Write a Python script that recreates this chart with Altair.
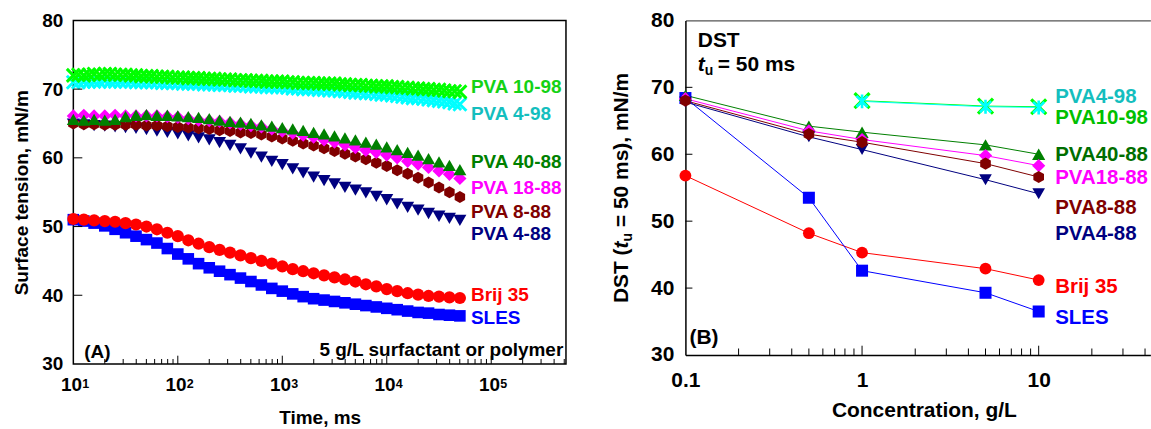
import altair as alt
import pandas as pd

FONT = "Liberation Sans"

# ---------------- Panel (A): surface tension vs time, 5 g/L ----------------
time_ms = [10, 12.6, 15.8, 20, 25.1, 31.6, 39.8, 50.1, 63.1, 79.4,
           100, 126, 158, 200, 251, 316, 398, 501, 631, 794,
           1000, 1259, 1585, 1995, 2512, 3162, 3981, 5012, 6310, 7943,
           10000, 12589, 15849, 19953, 25119, 31623, 39811, 50119]

time_fine_ms = [10, 11.2, 12.6, 14.1, 15.8, 17.8, 20, 22.4, 25.1, 28.2,
                31.6, 35.5, 39.8, 44.7, 50.1, 56.2, 63.1, 70.8, 79.4, 89.1,
                100, 112, 126, 141, 158, 178, 200, 224, 251, 282,
                316, 355, 398, 447, 501, 562, 631, 708, 794, 891,
                1000, 1122, 1259, 1413, 1585, 1778, 1995, 2239, 2512, 2818,
                3162, 3548, 3981, 4467, 5012, 5623, 6310, 7079, 7943, 8913,
                10000, 11220, 12589, 14125, 15849, 17783, 19953, 22387, 25119, 28184,
                31623, 35481, 39811, 44668, 50119]

pva10_98_A = [72.0, 72.1, 72.0, 72.1, 72.2, 72.1, 72.2, 72.2, 72.1, 72.1,
              72.1, 72.0, 72.0, 71.9, 71.9, 71.9, 71.8, 71.8, 71.8, 71.7,
              71.7, 71.7, 71.6, 71.6, 71.6, 71.5, 71.5, 71.5, 71.4, 71.4,
              71.4, 71.3, 71.3, 71.3, 71.2, 71.2, 71.2, 71.1, 71.1, 71.1,
              71.1, 71.0, 71.0, 70.9, 70.9, 70.9, 70.9, 70.8, 70.8, 70.8,
              70.8, 70.7, 70.7, 70.6, 70.6, 70.6, 70.5, 70.5, 70.4, 70.4,
              70.4, 70.3, 70.3, 70.2, 70.2, 70.1, 70.1, 70.0, 70.0, 69.9,
              69.9, 69.8, 69.7, 69.7, 69.6]

pva4_98_A = [71.0, 71.0, 71.1, 71.1, 71.1, 71.1, 71.2, 71.1, 71.1, 71.1,
             71.1, 71.1, 71.0, 71.0, 71.0, 71.0, 71.0, 70.9, 70.9, 70.9,
             70.9, 70.8, 70.8, 70.8, 70.8, 70.7, 70.7, 70.7, 70.6, 70.6,
             70.6, 70.5, 70.5, 70.5, 70.4, 70.4, 70.4, 70.3, 70.3, 70.3,
             70.3, 70.2, 70.1, 70.1, 70.0, 70.0, 70.0, 69.9, 69.9, 69.8,
             69.8, 69.7, 69.7, 69.6, 69.5, 69.5, 69.4, 69.4, 69.3, 69.2,
             69.2, 69.1, 69.0, 68.9, 68.8, 68.7, 68.7, 68.6, 68.5, 68.4,
             68.3, 68.2, 68.1, 67.9, 67.8]

pva40_88_A = [65.6, 65.5, 65.6, 65.5, 65.6, 66.0, 66.2, 66.3, 66.2, 66.2,
              66.1, 66.0, 65.9, 65.7, 65.5, 65.3, 65.2, 65.0, 64.8, 64.6,
              64.4, 64.2, 64.0, 63.7, 63.5, 63.2, 62.9, 62.6, 62.3, 62.0,
              61.6, 61.2, 60.8, 60.4, 59.9, 59.4, 58.9, 58.3]

pva18_88_A = [66.1, 66.2, 66.1, 66.1, 66.2, 66.1, 66.1, 66.1, 66.1, 66.0,
              65.9, 65.7, 65.5, 65.4, 65.3, 65.1, 64.9, 64.7, 64.5, 64.2,
              63.9, 63.6, 63.3, 63.0, 62.6, 62.3, 61.9, 61.5, 61.1, 60.8,
              60.4, 60.0, 59.5, 59.1, 58.6, 58.1, 57.6, 57.0]

pva8_88_A = [65.0, 64.9, 64.9, 64.8, 64.8, 64.8, 64.8, 64.7, 64.7, 64.6,
             64.5, 64.4, 64.3, 64.2, 64.0, 63.9, 63.7, 63.6, 63.4, 63.1,
             62.8, 62.5, 62.1, 61.8, 61.4, 61.0, 60.6, 60.2, 59.8, 59.3,
             58.8, 58.2, 57.7, 57.1, 56.4, 55.7, 55.0, 54.3]

pva4_88_A = [64.9, 64.8, 64.7, 64.6, 64.5, 64.4, 64.3, 64.1, 63.9, 63.7,
             63.5, 63.2, 62.9, 62.6, 62.2, 61.8, 61.3, 60.7, 60.1, 59.5,
             59.0, 58.4, 57.8, 57.2, 56.7, 56.2, 55.7, 55.3, 54.9, 54.4,
             53.9, 53.3, 52.8, 52.4, 51.9, 51.5, 51.2, 50.9]

brij35_A = [51.1, 51.0, 50.9, 50.8, 50.7, 50.5, 50.3, 50.0, 49.6, 49.1,
            48.6, 48.0, 47.5, 47.0, 46.6, 46.2, 45.8, 45.4, 45.0, 44.6,
            44.2, 43.8, 43.5, 43.2, 42.9, 42.6, 42.3, 42.0, 41.6, 41.3,
            40.9, 40.6, 40.3, 40.1, 39.9, 39.8, 39.7, 39.6]

sles_A = [51.0, 50.8, 50.5, 50.1, 49.6, 49.1, 48.6, 48.1, 47.6, 46.8,
          46.0, 45.3, 44.6, 44.0, 43.5, 43.0, 42.5, 42.0, 41.5, 41.0,
          40.6, 40.2, 39.8, 39.5, 39.3, 39.1, 38.9, 38.7, 38.5, 38.3,
          38.1, 37.9, 37.7, 37.5, 37.4, 37.2, 37.1, 37.0]

labels_A = ["PVA 10-98", "PVA 4-98", "PVA 40-88", "PVA 18-88",
            "PVA 8-88", "PVA 4-88", "Brij 35", "SLES"]
labels_A_y = [70.26, 66.38, 59.41, 55.63, 52.1, 48.86, 40.05, 36.76]
labels_A_x = 64000
labels_A_color = ["#14D214", "#14BEBE", "#008000", "#FF00FF",
                  "#800000", "#000080", "#FF0000", "#0000FF"]

time_major = [10, 100, 1000, 10000, 100000]
time_major_base = ["10", "10", "10", "10", "10"]
time_major_exp = ["1", "2", "3", "4", "5"]
time_major_ticks = [100, 1000, 10000, 100000]
time_minor = [20, 30, 40, 50, 60, 70, 80, 90,
              200, 300, 400, 500, 600, 700, 800, 900,
              2000, 3000, 4000, 5000, 6000, 7000, 8000, 9000,
              20000, 30000, 40000, 50000, 60000, 70000, 80000, 90000,
              200000, 300000, 400000, 500000]
tension_ticks = [30, 40, 50, 60, 70, 80]
tension_inner_ticks = [40, 50, 60, 70]

# ---------------- Panel (B): DST at t_u = 50 ms vs concentration ----------------
conc = [0.1, 0.5, 1, 5, 10]
conc_98 = [1, 5, 10]
sles_B = [68.4, 53.5, 42.6, 39.3, 36.5]
brij35_B = [56.8, 48.2, 45.3, 42.9, 41.2]
pva4_88_B = [67.8, 62.6, 60.7, 56.2, 54.1]
pva8_88_B = [68.0, 63.0, 61.8, 58.6, 56.6]
pva18_88_B = [68.3, 63.5, 62.2, 59.8, 58.3]
pva40_88_B = [68.8, 64.2, 63.3, 61.4, 60.0]
pva4_98_B = [67.9, 67.1, 67.0]
pva10_98_B = [68.0, 67.2, 67.1]

labels_B = ["PVA4-98", "PVA10-98", "PVA40-88", "PVA18-88",
            "PVA8-88", "PVA4-88", "Brij 35", "SLES"]
labels_B_y = [68.54, 65.41, 59.95, 56.46, 52.02, 48.02, 40.09, 35.5]
labels_B_x = 12.4
labels_B_color = ["#14BEBE", "#00C000", "#006E00", "#FF00FF",
                  "#800000", "#000080", "#FF0000", "#0000FF"]

conc_major = [0.1, 1, 10]
conc_major_ticks = [1, 10]
conc_minor = [0.2, 0.3, 0.4, 0.5, 0.6, 0.7, 0.8, 0.9,
              2, 3, 4, 5, 6, 7, 8, 9, 20, 30, 40]

# ---------------- geometry / style ----------------
W_A, H_A = 493.7, 344.3
W_B, H_B = 466.0, 335.3

PATH_X = "M-1,-1L1,1M-1,1L1,-1"
PATH_STAR = "M0,-1L0,1M-0.8,-0.8L0.8,0.8M-0.8,0.8L0.8,-0.8"
PATH_HEX = "M0,-1L0.87,-0.5L0.87,0.5L0,1L-0.87,0.5L-0.87,-0.5Z"

xA = alt.Scale(type="log", domain=[10, 519400], nice=False)
xB = alt.Scale(type="log", domain=[0.1, 42.9], nice=False)
yS = alt.Scale(domain=[30, 80], nice=False, zero=False)


def df_xy(x, y):
    return pd.DataFrame({"x": x, "y": y})


def points(x, y, xs, color, shape, size, filled=True, sw=2.0, x_axis=None, y_axis=None):
    kw = dict(shape=shape, size=size, color=color, opacity=1, filled=filled)
    if not filled:
        kw["strokeWidth"] = sw
    return alt.Chart(df_xy(x, y)).mark_point(**kw).encode(
        x=alt.X("x:Q", scale=xs, axis=x_axis),
        y=alt.Y("y:Q", scale=yS, axis=y_axis),
    )


def line(x, y, xs, color):
    return alt.Chart(df_xy(x, y)).mark_line(color=color, strokeWidth=1).encode(
        x=alt.X("x:Q", scale=xs, axis=None),
        y=alt.Y("y:Q", scale=yS, axis=None),
        order="x:Q",
    )


def txt(text, x, y, size, color="black", align="left", baseline="middle",
        angle=None, style=None):
    kw = dict(text=text, font=FONT, fontSize=size, fontWeight="bold",
              color=color, align=align, baseline=baseline)
    if angle is not None:
        kw["angle"] = angle
    if style is not None:
        kw["fontStyle"] = style
    return alt.Chart(pd.DataFrame({"d": [0]})).mark_text(**kw).encode(
        x=alt.value(x), y=alt.value(y))


def xticks_inward(vals, xs, H, size):
    # ticks drawn upward from the bottom axis, positioned by the x scale
    return alt.Chart(pd.DataFrame({"v": vals})).mark_rule(
        color="black", strokeWidth=1).encode(
        x=alt.X("v:Q", scale=xs, axis=None),
        y=alt.value(H), y2=alt.value(H - size))


def yticks_inward(vals, size):
    return alt.Chart(pd.DataFrame({"v": vals})).mark_rule(
        color="black", strokeWidth=1).encode(
        y=alt.Y("v:Q", scale=yS, axis=None),
        x=alt.value(0), x2=alt.value(size))


# ---------------- build panel A ----------------
axA_x = alt.Axis(orient="bottom", values=time_major, labels=False, ticks=False,
                 domain=False, title="Time, ms", titleFontSize=19,
                 titleY=59.7, titleBaseline="alphabetic")
axA_y = alt.Axis(orient="left", values=tension_ticks, format="d", ticks=False,
                 domain=False, labelFontSize=19, labelPadding=10.6, labelFlush=False,
                 title="Surface tension, mN/m", titleFontSize=19,
                 titleX=-45.6, titleBaseline="alphabetic")

layersA = [
    points(time_ms, sles_A, xA, "#0000FF", "square", 135, x_axis=axA_x, y_axis=axA_y),
    points(time_ms, brij35_A, xA, "#FF0000", "circle", 150),
    points(time_ms, pva4_88_A, xA, "#000080", "triangle-down", 170),
    points(time_ms, pva8_88_A, xA, "#800000", PATH_HEX, 145),
    points(time_ms, pva18_88_A, xA, "#FF00FF", "diamond", 175),
    points(time_ms, pva40_88_A, xA, "#008000", "triangle-up", 170),
    points(time_fine_ms, pva4_98_A, xA, "#00FFFF", PATH_X, 170, filled=False, sw=3),
    points(time_fine_ms, pva10_98_A, xA, "#00FF00", PATH_X, 170, filled=False, sw=3),
]

labA_df = pd.DataFrame({"name": labels_A, "y": labels_A_y,
                        "x": [labels_A_x] * len(labels_A), "c": labels_A_color})
layersA.append(
    alt.Chart(labA_df).mark_text(align="left", baseline="middle", font=FONT,
                                 fontSize=19, fontWeight="bold").encode(
        x=alt.X("x:Q", scale=xA, axis=None),
        y=alt.Y("y:Q", scale=yS, axis=None),
        text="name:N",
        color=alt.Color("c:N", scale=None),
    )
)

exp_df = pd.DataFrame({"t": time_major, "base": time_major_base, "exp": time_major_exp})
layersA.append(
    alt.Chart(exp_df).mark_text(align="center", baseline="alphabetic", dx=-1.8,
                                font=FONT, fontSize=19, fontWeight="bold",
                                color="black").encode(
        x=alt.X("t:Q", scale=xA, axis=None), y=alt.value(371.7), text="base:N")
)
layersA.append(
    alt.Chart(exp_df).mark_text(align="left", baseline="alphabetic", dx=9,
                                font=FONT, fontSize=12.5, fontWeight="bold",
                                color="black").encode(
        x=alt.X("t:Q", scale=xA, axis=None), y=alt.value(368.3), text="exp:N")
)

layersA += [
    txt("(A)", 11, 332.8, 19),
    txt("5 g/L surfactant or polymer", 491, 330.4, 19, align="right"),
    xticks_inward(time_major_ticks, xA, H_A, 8.3),
    xticks_inward(time_minor, xA, H_A, 5),
    yticks_inward(tension_inner_ticks, 9),
]

panelA = alt.layer(*layersA).resolve_axis(x="independent", y="independent").properties(
    width=W_A, height=H_A,
    view=alt.ViewBackground(stroke="black", strokeWidth=1.5),
)

# ---------------- build panel B ----------------
axB_x = alt.Axis(orient="bottom", values=conc_major,
                 labelExpr="datum.value < 0.5 ? '0.1' : (datum.value < 5 ? '1' : '10')",
                 ticks=False, domain=True, domainColor="black", domainWidth=1.5,
                 labelFontSize=21, labelPadding=14.3, labelFlush=False,
                 title="Concentration, g/L", titleFontSize=21,
                 titleX=239, titleY=62, titleBaseline="alphabetic")
axB_y = alt.Axis(orient="left", values=tension_ticks, format="d", ticks=False,
                 domain=True, domainColor="black", domainWidth=1.5,
                 labelFontSize=21, labelPadding=11.6, labelFlush=False, title=None)

layersB = [
    line(conc, brij35_B, xB, "#FF0000"),
    line(conc, sles_B, xB, "#0000FF"),
    line(conc, pva40_88_B, xB, "#008000"),
    line(conc, pva18_88_B, xB, "#FF00FF"),
    line(conc, pva4_88_B, xB, "#000080"),
    line(conc, pva8_88_B, xB, "#800000"),
    line(conc_98, pva10_98_B, xB, "#00FF00"),
    line(conc_98, pva4_98_B, xB, "#00FFFF"),
    points(conc, brij35_B, xB, "#FF0000", "circle", 140, x_axis=axB_x, y_axis=axB_y),
    points(conc, sles_B, xB, "#0000FF", "square", 145),
    points(conc, pva40_88_B, xB, "#008000", "triangle-up", 175),
    points(conc, pva18_88_B, xB, "#FF00FF", "diamond", 175),
    points(conc, pva4_88_B, xB, "#000080", "triangle-down", 160),
    points(conc, pva8_88_B, xB, "#800000", PATH_HEX, 150),
    points(conc_98, pva10_98_B, xB, "#00FF00", PATH_X, 225, filled=False, sw=3.2),
    points(conc_98, pva4_98_B, xB, "#00FFFF", PATH_STAR, 196, filled=False, sw=2.6),
]

labB_df = pd.DataFrame({"name": labels_B, "y": labels_B_y,
                        "x": [labels_B_x] * len(labels_B), "c": labels_B_color})
layersB.append(
    alt.Chart(labB_df).mark_text(align="left", baseline="middle", font=FONT,
                                 fontSize=20.5, fontWeight="bold").encode(
        x=alt.X("x:Q", scale=xB, axis=None),
        y=alt.Y("y:Q", scale=yS, axis=None),
        text="name:N",
        color=alt.Color("c:N", scale=None),
    )
)

layersB += [
    # annotation "DST, t_u = 50 ms"
    txt("DST", 12.4, 20.2, 21),
    txt("t", 12.4, 50.8, 21, baseline="alphabetic", style="italic"),
    txt("u", 19.3, 54.8, 14, baseline="alphabetic"),
    txt("= 50 ms", 32.4, 50.8, 21, baseline="alphabetic"),
    txt("(B)", 4, 318, 21),
    # rotated y-axis title "DST (t_u = 50 ms), mN/m"
    txt("DST (", -57.1, 283.3, 21, baseline="alphabetic", angle=270),
    txt("t", -57.1, 228.5, 21, baseline="alphabetic", angle=270, style="italic"),
    txt("u", -53.1, 221.5, 14, baseline="alphabetic", angle=270),
    txt("= 50 ms), mN/m", -57.1, 207.1, 21, baseline="alphabetic", angle=270),
    # top frame line (panel is cut at the right edge)
    alt.Chart(df_xy(conc, sles_B)).mark_point(opacity=0).encode(
        x=alt.X("x:Q", scale=xB,
                axis=alt.Axis(orient="top", domain=True, domainColor="#555555",
                              domainWidth=1.3, ticks=False, labels=False, title=None)),
        y=alt.Y("y:Q", scale=yS, axis=None),
    ),
    xticks_inward(conc_major_ticks, xB, H_B, 9.3),
    xticks_inward(conc_minor, xB, H_B, 6.5),
    yticks_inward(tension_inner_ticks, 7),
]

panelB = alt.layer(*layersB).resolve_axis(x="independent", y="independent").properties(
    width=W_B, height=H_B,
    view=alt.ViewBackground(strokeOpacity=0),
)

chart = alt.hconcat(panelA, panelB, spacing=43.4).properties(
    padding={"left": 11.5, "top": 9, "right": 0, "bottom": 0},
    background="white",
).configure_axis(
    grid=False, labelFont=FONT, titleFont=FONT, labelFontWeight="bold",
    titleFontWeight="bold", labelColor="black", titleColor="black",
    tickColor="black", domainColor="black",
)

chart.save("out.html", embed_options={"renderer": "svg", "actions": False})
